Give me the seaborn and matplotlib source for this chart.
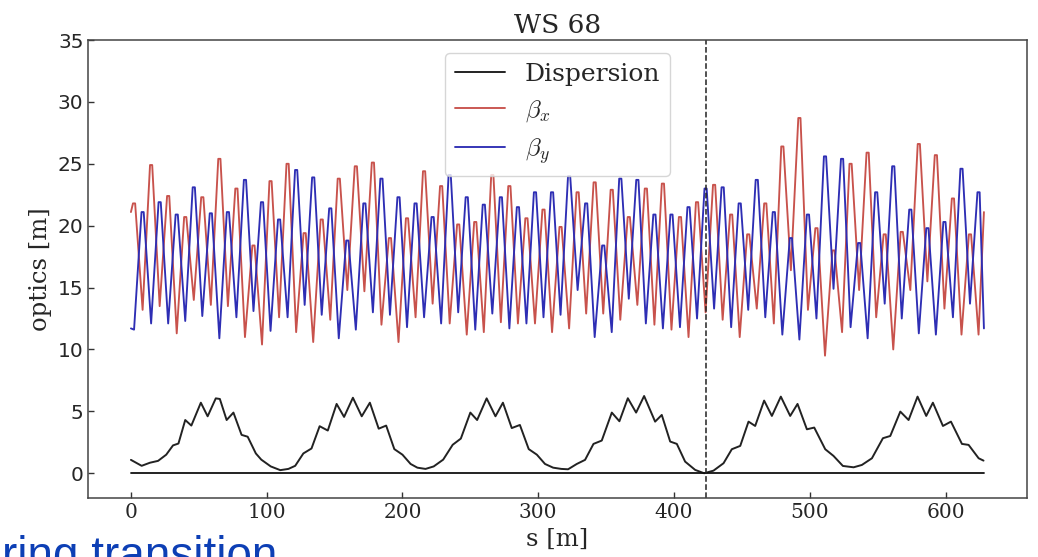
import numpy as np
import matplotlib
matplotlib.use("Agg")
import matplotlib.pyplot as plt
import seaborn as sns

# ---------------- data ----------------
circumference = 628.3
n_cells = 50
f_offset = 2.3      # first focusing location [m]
d_offset = 8.6      # first defocusing location [m]

bx_start, bx_end = 21.1, 21.1
by_start, by_end = 11.7, 11.7

# beta_x maxima (at F) and minima (at D), per cell
bx_peak = [21.8, 24.9, 22.4, 20.7, 22.3, 25.4, 23.0, 18.4, 23.6, 25.0,
           19.4, 20.5, 23.8, 24.8, 25.1, 19.0, 20.6, 24.4, 23.2, 20.1,
           20.3, 24.1, 23.2, 20.6, 21.3, 19.9, 22.7, 23.5, 22.9, 20.7,
           23.0, 23.4, 20.7, 21.9, 23.3, 20.9, 19.3, 21.8, 26.4, 28.7,
           19.8, 18.0, 25.0, 25.9, 19.3, 19.5, 26.6, 25.7, 22.2, 19.3]
bx_trough = [13.2, 13.5, 11.3, 14.0, 13.6, 13.5, 11.0, 10.4, 12.6, 11.4,
             10.6, 12.4, 14.8, 14.7, 12.0, 10.6, 12.6, 13.7, 12.1, 11.2,
             11.4, 12.2, 12.1, 12.1, 11.4, 11.7, 12.9, 12.9, 12.4, 13.6,
             12.0, 11.6, 11.0, 13.0, 12.4, 11.0, 13.3, 12.1, 16.4, 13.2,
             9.5, 11.4, 14.8, 12.6, 10.0, 14.8, 15.5, 13.3, 11.2, 11.2]
# beta_y maxima (at D) and minima (at F), per cell
by_peak = [21.1, 21.9, 20.9, 23.1, 21.0, 21.1, 23.7, 21.9, 20.5, 24.5,
           23.9, 21.4, 18.8, 21.8, 23.8, 22.3, 21.8, 20.7, 24.1, 22.3,
           21.7, 22.3, 21.5, 22.7, 22.7, 24.0, 21.8, 18.4, 23.8, 23.7,
           20.9, 20.9, 21.5, 23.0, 23.1, 21.8, 23.7, 21.1, 19.0, 20.9,
           25.6, 25.4, 18.6, 22.7, 24.8, 21.3, 19.8, 20.3, 24.6, 22.7]
by_trough = [11.6, 12.1, 12.1, 12.3, 12.7, 10.9, 12.6, 13.1, 11.5, 12.6,
             13.6, 12.8, 10.9, 11.6, 13.0, 12.8, 11.8, 12.6, 12.1, 13.0,
             11.6, 12.9, 11.7, 12.1, 12.6, 12.8, 14.8, 11.0, 11.4, 14.1,
             12.1, 11.7, 11.8, 12.5, 13.3, 11.8, 13.2, 12.6, 11.2, 10.8,
             12.5, 14.9, 11.8, 10.9, 13.7, 12.5, 11.3, 11.2, 12.6, 13.7]

# dispersion
s_disp = [0, 7.9, 14, 20, 26, 31, 35, 40, 44.5, 51.5, 56.5, 62.5, 65.5, 70.5,
          75.5, 81.5, 86, 92, 96, 103, 110, 116, 121, 127, 133, 139, 145,
          151.5, 157, 163.5, 170, 176, 182.5, 188, 194, 200, 206, 211, 217,
          223, 230, 237, 243, 250, 255, 262, 268.5, 274, 280.5, 286.5, 293,
          299, 305, 311, 317, 322, 328.4, 334.5, 340.7, 346.8, 354.2, 359.8,
          366, 372.1, 378, 386.1, 391, 397.2, 402.1, 408.2, 415.6, 422.2,
          429.1, 436.5, 442.6, 448.8, 454.9, 459.8, 466.4, 472.1, 478.7,
          485.6, 491, 497.9, 503.3, 511.4, 517.5, 524.4, 532.3, 538.4, 545.8,
          553.9, 559.3, 566.7, 572.8, 579.4, 585.8, 590.7, 598.1, 604, 612.1,
          617, 624.4, 628]
d_disp = [1.08, 0.6, 0.85, 1.0, 1.5, 2.25, 2.4, 4.3, 3.85, 5.7, 4.6, 6.05,
          6.0, 4.3, 4.9, 3.1, 2.95, 1.6, 1.1, 0.55, 0.25, 0.35, 0.6, 1.6, 2.0,
          3.8, 3.45, 5.6, 4.55, 6.1, 4.6, 5.7, 3.6, 3.85, 1.95, 1.5, 0.75,
          0.45, 0.35, 0.55, 1.1, 2.3, 2.8, 4.9, 4.3, 6.05, 4.6, 5.7, 3.65,
          3.9, 1.95, 1.5, 0.75, 0.45, 0.35, 0.32, 0.75, 1.08, 2.37, 2.64,
          4.9, 4.2, 6.06, 4.9, 6.24, 4.17, 4.71, 2.56, 2.37, 0.94, 0.27, 0.0,
          0.21, 0.81, 1.94, 2.21, 4.17, 3.82, 5.87, 4.63, 6.19, 4.63, 5.6,
          3.55, 3.69, 1.94, 1.4, 0.59, 0.48, 0.67, 1.21, 2.83, 3.01, 4.98,
          4.3, 6.19, 4.63, 5.7, 3.82, 4.17, 2.37, 2.29, 1.21, 1.02]

ws_position = 423.5
title = "WS 68"
note_text = "ring transition"

# ---------------- build line samples ----------------
cell = circumference / n_cells
k = np.arange(n_cells)
s_f = f_offset + cell * k
s_d = d_offset + cell * k
w = 0.8  # half-width of the flat top of each maximum


def build(start, end, peaks, troughs, s_peak, s_trough):
    xs, ys = [0.0], [start]
    pts = []
    for i in range(n_cells):
        pts.append((s_peak[i] - w, peaks[i]))
        pts.append((s_peak[i] + w, peaks[i]))
        pts.append((s_trough[i], troughs[i]))
    pts.sort(key=lambda p: p[0])
    for x, y in pts:
        xs.append(x)
        ys.append(y)
    xs.append(circumference)
    ys.append(end)
    return np.array(xs), np.array(ys)


sx, bx = build(bx_start, bx_end, bx_peak, bx_trough, s_f, s_d)
sy, by = build(by_start, by_end, by_peak, by_trough, s_d, s_f)

# ---------------- plot ----------------
sns.set_style("white")
plt.rcParams["font.family"] = ["DejaVu Serif"]
plt.rcParams["mathtext.fontset"] = "cm"

fig = plt.figure(figsize=(10.38, 5.57), dpi=100)
ax = fig.add_axes([88.3 / 1038, 1 - 498 / 557, (1026.7 - 88.3) / 1038, (498 - 40) / 557])

red = "#c8524c"
blue = "#2e2eb4"

sns.lineplot(x=np.array(s_disp), y=np.array(d_disp), ax=ax, color="#222222",
             lw=1.4, label="Dispersion", sort=False, estimator=None)
sns.lineplot(x=sx, y=bx, ax=ax, color=red, lw=1.35, label=r"$\beta_x$",
             sort=False, estimator=None)
sns.lineplot(x=sy, y=by, ax=ax, color=blue, lw=1.35, label=r"$\beta_y$",
             sort=False, estimator=None)
ax.plot([min(s_disp), max(s_disp)], [0, 0], color="#111111", lw=1.3)
ax.axvline(ws_position, color="#222222", ls="--", lw=1.1)

ax.set_xlim(-31.4, 659.8)
ax.set_ylim(-2, 35)
ax.set_xticks([0, 100, 200, 300, 400, 500, 600])
ax.set_yticks([0, 5, 10, 15, 20, 25, 30, 35])
ax.tick_params(direction="in", length=4, width=1, color="#333333",
               labelsize=14.5, left=True, bottom=True)
for lab in ax.get_yticklabels():
    lab.set_family("DejaVu Sans")
for sp in ax.spines.values():
    sp.set_color("#444444")
    sp.set_linewidth(1.1)

ax.set_xlabel("s [m]", fontsize=17.5, labelpad=4)
ax.set_ylabel("optics [m]", fontsize=17.5, labelpad=4)
ax.set_title(title, fontsize=19, pad=5)

leg = ax.legend(loc="upper center", fontsize=18, frameon=True)
leg.get_frame().set_edgecolor("#cccccc")

fig.text(0.002, -12 / 557, note_text, color="#0d3fb5", fontsize=33,
         family="Liberation Sans", ha="left", va="baseline")

fig.savefig("out.png", dpi=100)
